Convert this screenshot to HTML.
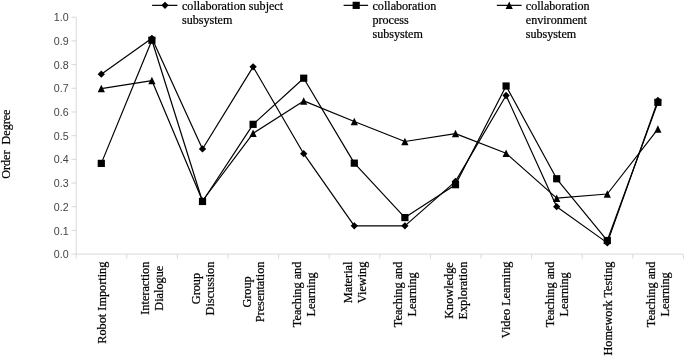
<!DOCTYPE html>
<html><head><meta charset="utf-8"><title>chart</title>
<style>
html,body{margin:0;padding:0;background:#fff;}
body{width:685px;height:357px;overflow:hidden;}
svg{display:block;will-change:transform;}
.s{font-family:"Liberation Serif",serif;font-size:12.1px;fill:#000;stroke:#000;stroke-width:0.22px;}
.x{font-family:"Liberation Serif",serif;font-size:12.27px;fill:#000;stroke:#000;stroke-width:0.22px;}
.t{font-family:"Liberation Sans",sans-serif;font-size:10.67px;fill:#444;}
</style></head><body>
<svg width="685" height="357" viewBox="0 0 685 357">
<rect width="685" height="357" fill="#fff"/>
<g stroke="#d9d9d9" stroke-width="1" fill="none">
<line x1="76.2" y1="17.2" x2="76.2" y2="254.1"/>
<line x1="76.2" y1="254.1" x2="683.4" y2="254.1"/>
<line x1="71.4" y1="254.10" x2="76.2" y2="254.10"/>
<line x1="71.4" y1="230.41" x2="76.2" y2="230.41"/>
<line x1="71.4" y1="206.72" x2="76.2" y2="206.72"/>
<line x1="71.4" y1="183.03" x2="76.2" y2="183.03"/>
<line x1="71.4" y1="159.34" x2="76.2" y2="159.34"/>
<line x1="71.4" y1="135.65" x2="76.2" y2="135.65"/>
<line x1="71.4" y1="111.96" x2="76.2" y2="111.96"/>
<line x1="71.4" y1="88.27" x2="76.2" y2="88.27"/>
<line x1="71.4" y1="64.58" x2="76.2" y2="64.58"/>
<line x1="71.4" y1="40.89" x2="76.2" y2="40.89"/>
<line x1="71.4" y1="17.20" x2="76.2" y2="17.20"/>
<line x1="76.20" y1="254.1" x2="76.20" y2="258.7"/>
<line x1="126.80" y1="254.1" x2="126.80" y2="258.7"/>
<line x1="177.40" y1="254.1" x2="177.40" y2="258.7"/>
<line x1="228.00" y1="254.1" x2="228.00" y2="258.7"/>
<line x1="278.60" y1="254.1" x2="278.60" y2="258.7"/>
<line x1="329.20" y1="254.1" x2="329.20" y2="258.7"/>
<line x1="379.80" y1="254.1" x2="379.80" y2="258.7"/>
<line x1="430.40" y1="254.1" x2="430.40" y2="258.7"/>
<line x1="481.00" y1="254.1" x2="481.00" y2="258.7"/>
<line x1="531.60" y1="254.1" x2="531.60" y2="258.7"/>
<line x1="582.20" y1="254.1" x2="582.20" y2="258.7"/>
<line x1="632.80" y1="254.1" x2="632.80" y2="258.7"/>
<line x1="683.40" y1="254.1" x2="683.40" y2="258.7"/>
</g>
<text class="t" x="68.6" y="258.20" text-anchor="end">0.0</text>
<text class="t" x="68.6" y="234.51" text-anchor="end">0.1</text>
<text class="t" x="68.6" y="210.82" text-anchor="end">0.2</text>
<text class="t" x="68.6" y="187.13" text-anchor="end">0.3</text>
<text class="t" x="68.6" y="163.44" text-anchor="end">0.4</text>
<text class="t" x="68.6" y="139.75" text-anchor="end">0.5</text>
<text class="t" x="68.6" y="116.06" text-anchor="end">0.6</text>
<text class="t" x="68.6" y="92.37" text-anchor="end">0.7</text>
<text class="t" x="68.6" y="68.68" text-anchor="end">0.8</text>
<text class="t" x="68.6" y="44.99" text-anchor="end">0.9</text>
<text class="t" x="68.6" y="21.30" text-anchor="end">1.0</text>
<text class="s" transform="translate(9.8,178.7) rotate(-90)" xml:space="preserve">Order  Degree</text>
<text class="x" transform="translate(105.60,261.6) rotate(-90)" text-anchor="end">Robot Importing</text>
<text class="x" transform="translate(149.30,288.18) rotate(-90)" text-anchor="middle">Interaction</text>
<text class="x" transform="translate(163.10,288.18) rotate(-90)" text-anchor="middle">Dialogue</text>
<text class="x" transform="translate(199.90,288.53) rotate(-90)" text-anchor="middle">Group</text>
<text class="x" transform="translate(213.70,288.53) rotate(-90)" text-anchor="middle">Discussion</text>
<text class="x" transform="translate(250.50,291.93) rotate(-90)" text-anchor="middle">Group</text>
<text class="x" transform="translate(264.30,291.93) rotate(-90)" text-anchor="middle">Presentation</text>
<text class="x" transform="translate(301.10,294.39) rotate(-90)" text-anchor="middle">Teaching and</text>
<text class="x" transform="translate(314.90,294.39) rotate(-90)" text-anchor="middle">Learning</text>
<text class="x" transform="translate(351.70,282.39) rotate(-90)" text-anchor="middle">Material</text>
<text class="x" transform="translate(365.50,282.39) rotate(-90)" text-anchor="middle">Viewing</text>
<text class="x" transform="translate(402.30,294.39) rotate(-90)" text-anchor="middle">Teaching and</text>
<text class="x" transform="translate(416.10,294.39) rotate(-90)" text-anchor="middle">Learning</text>
<text class="x" transform="translate(452.90,290.57) rotate(-90)" text-anchor="middle">Knowledge</text>
<text class="x" transform="translate(466.70,290.57) rotate(-90)" text-anchor="middle">Exploration</text>
<text class="x" transform="translate(510.40,261.6) rotate(-90)" text-anchor="end">Video Learning</text>
<text class="x" transform="translate(554.10,294.39) rotate(-90)" text-anchor="middle">Teaching and</text>
<text class="x" transform="translate(567.90,294.39) rotate(-90)" text-anchor="middle">Learning</text>
<text class="x" transform="translate(611.60,261.6) rotate(-90)" text-anchor="end">Homework Testing</text>
<text class="x" transform="translate(655.30,294.39) rotate(-90)" text-anchor="middle">Teaching and</text>
<text class="x" transform="translate(669.10,294.39) rotate(-90)" text-anchor="middle">Learning</text>
<polyline points="101.30,74.18 151.90,38.29 202.50,148.95 253.10,66.85 303.70,153.68 354.30,225.84 404.90,225.84 455.50,181.36 506.10,95.48 556.70,206.68 607.30,242.88 657.90,100.45" fill="none" stroke="#000" stroke-width="1.2" stroke-linejoin="round"/>
<g fill="#000" stroke="none"><path d="M101.30 70.53L104.95 74.18L101.30 77.83L97.65 74.18Z"/><path d="M151.90 34.64L155.55 38.29L151.90 41.94L148.25 38.29Z"/><path d="M202.50 145.30L206.15 148.95L202.50 152.60L198.85 148.95Z"/><path d="M253.10 63.20L256.75 66.85L253.10 70.50L249.45 66.85Z"/><path d="M303.70 150.03L307.35 153.68L303.70 157.33L300.05 153.68Z"/><path d="M354.30 222.19L357.95 225.84L354.30 229.49L350.65 225.84Z"/><path d="M404.90 222.19L408.55 225.84L404.90 229.49L401.25 225.84Z"/><path d="M455.50 177.71L459.15 181.36L455.50 185.01L451.85 181.36Z"/><path d="M506.10 91.83L509.75 95.48L506.10 99.13L502.45 95.48Z"/><path d="M556.70 203.03L560.35 206.68L556.70 210.33L553.05 206.68Z"/><path d="M607.30 239.23L610.95 242.88L607.30 246.53L603.65 242.88Z"/><path d="M657.90 96.80L661.55 100.45L657.90 104.10L654.25 100.45Z"/></g>
<polyline points="101.30,163.38 151.90,40.21 202.50,201.47 253.10,124.34 303.70,78.21 354.30,163.15 404.90,217.56 455.50,184.68 506.10,86.01 556.70,178.76 607.30,240.51 657.90,102.34" fill="none" stroke="#000" stroke-width="1.2" stroke-linejoin="round"/>
<g fill="#000" stroke="none"><rect x="97.70" y="159.78" width="7.2" height="7.2"/><rect x="148.30" y="36.61" width="7.2" height="7.2"/><rect x="198.90" y="197.87" width="7.2" height="7.2"/><rect x="249.50" y="120.74" width="7.2" height="7.2"/><rect x="300.10" y="74.61" width="7.2" height="7.2"/><rect x="350.70" y="159.55" width="7.2" height="7.2"/><rect x="401.30" y="213.96" width="7.2" height="7.2"/><rect x="451.90" y="181.08" width="7.2" height="7.2"/><rect x="502.50" y="82.41" width="7.2" height="7.2"/><rect x="553.10" y="175.16" width="7.2" height="7.2"/><rect x="603.70" y="236.91" width="7.2" height="7.2"/><rect x="654.30" y="98.74" width="7.2" height="7.2"/></g>
<polyline points="101.30,88.62 151.90,80.57 202.50,200.76 253.10,133.33 303.70,100.92 354.30,121.50 404.90,141.50 455.50,133.57 506.10,153.30 556.70,198.16 607.30,194.00 657.90,129.08" fill="none" stroke="#000" stroke-width="1.2" stroke-linejoin="round"/>
<g fill="#000" stroke="none"><path d="M101.30 84.87L104.90 92.37L97.70 92.37Z"/><path d="M151.90 76.82L155.50 84.32L148.30 84.32Z"/><path d="M202.50 197.01L206.10 204.51L198.90 204.51Z"/><path d="M253.10 129.58L256.70 137.08L249.50 137.08Z"/><path d="M303.70 97.17L307.30 104.67L300.10 104.67Z"/><path d="M354.30 117.75L357.90 125.25L350.70 125.25Z"/><path d="M404.90 137.75L408.50 145.25L401.30 145.25Z"/><path d="M455.50 129.82L459.10 137.32L451.90 137.32Z"/><path d="M506.10 149.55L509.70 157.05L502.50 157.05Z"/><path d="M556.70 194.41L560.30 201.91L553.10 201.91Z"/><path d="M607.30 190.25L610.90 197.75L603.70 197.75Z"/><path d="M657.90 125.33L661.50 132.83L654.30 132.83Z"/></g>
<line x1="152.1" y1="5.35" x2="177.4" y2="5.35" stroke="#000" stroke-width="1.2"/>
<g fill="#000" stroke="none"><path d="M165.00 1.70L168.65 5.35L165.00 9.00L161.35 5.35Z"/></g>
<text class="s" x="182.0" y="9.85">collaboration subject</text>
<text class="s" x="182.0" y="24.15">subsystem</text>
<line x1="343.6" y1="5.35" x2="368.1" y2="5.35" stroke="#000" stroke-width="1.2"/>
<g fill="#000" stroke="none"><rect x="352.60" y="1.75" width="7.2" height="7.2"/></g>
<text class="s" x="372.5" y="9.85">collaboration</text>
<text class="s" x="372.5" y="24.15">process</text>
<text class="s" x="372.5" y="38.45">subsystem</text>
<line x1="496.8" y1="5.35" x2="521.6" y2="5.35" stroke="#000" stroke-width="1.2"/>
<g fill="#000" stroke="none"><path d="M509.20 1.60L512.80 9.10L505.60 9.10Z"/></g>
<text class="s" x="525.8" y="9.85">collaboration</text>
<text class="s" x="525.8" y="24.15">environment</text>
<text class="s" x="525.8" y="38.45">subsystem</text>
</svg></body></html>
